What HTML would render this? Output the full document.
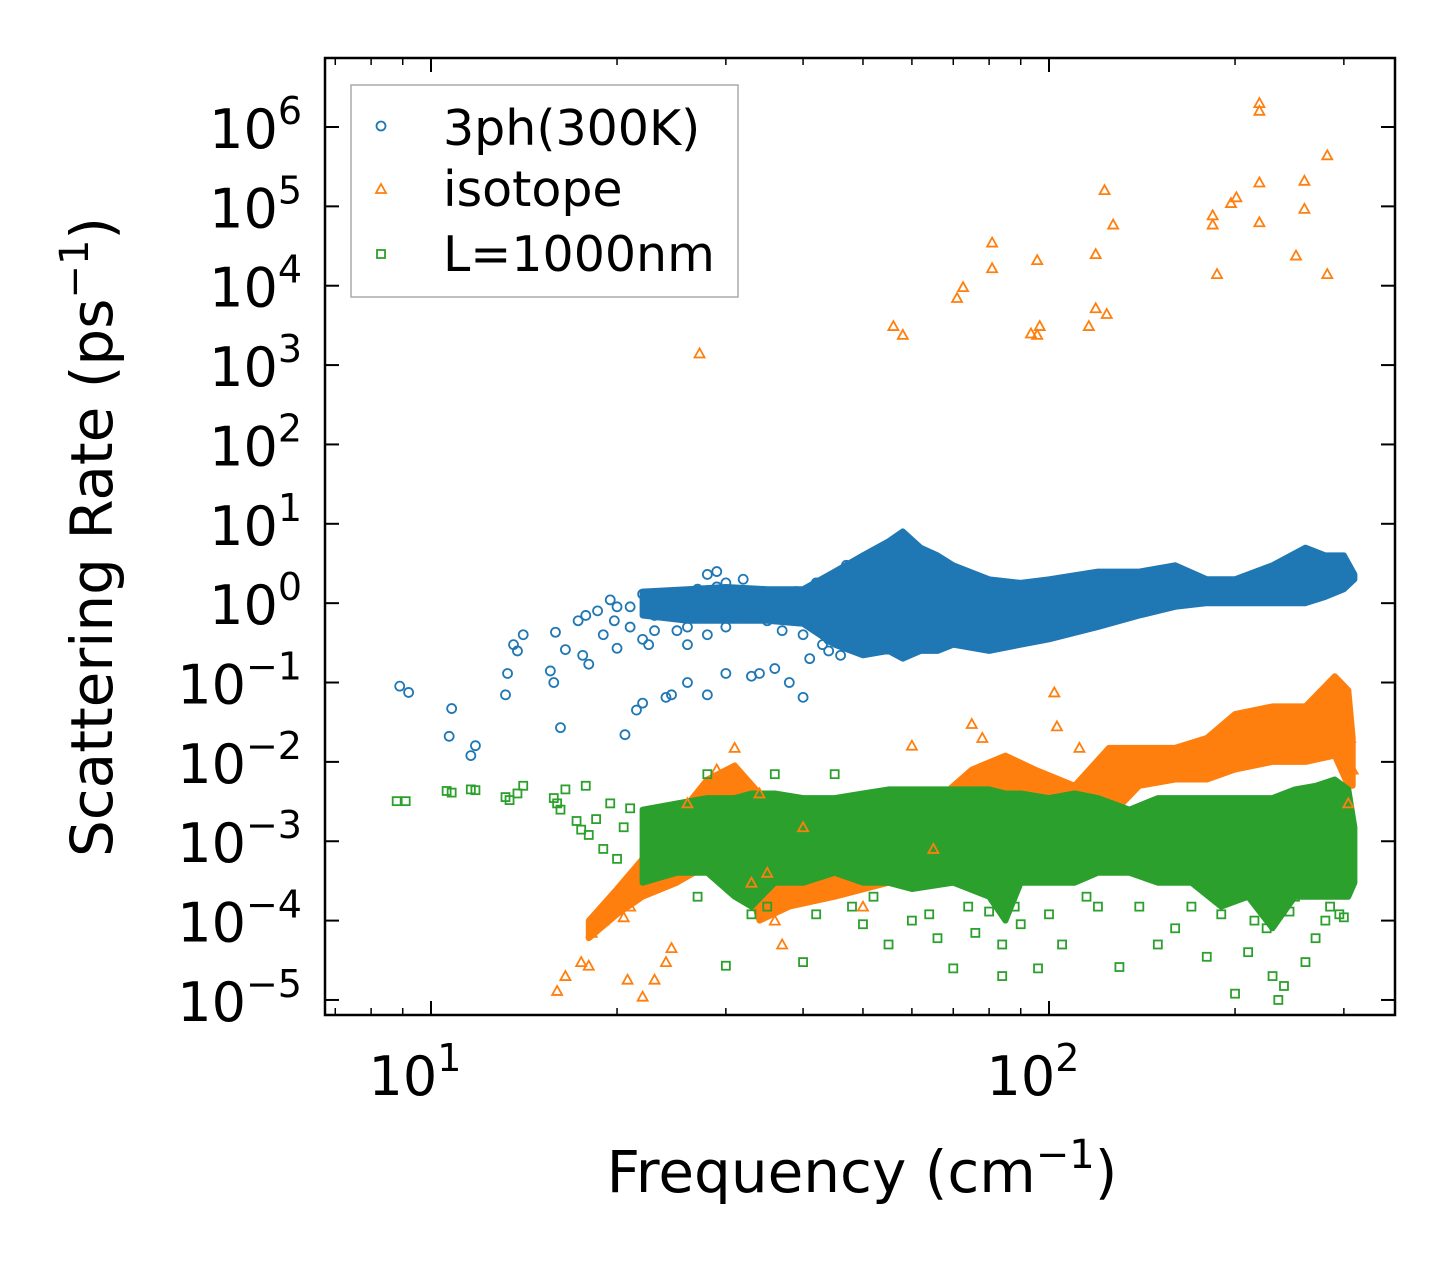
<!DOCTYPE html>
<html><head><meta charset="utf-8"><style>
html,body{margin:0;padding:0;background:#fff;}
svg{display:block;font-family:"DejaVu Sans","Liberation Sans",sans-serif;}
</style></head><body>
<svg id="chart" width="1455" height="1265" viewBox="0 0 1455 1265" xmlns="http://www.w3.org/2000/svg">
<rect x="0" y="0" width="1455" height="1265" fill="#fff"/>
<defs><clipPath id="clip"><rect x="325" y="58" width="1070" height="957"/></clipPath></defs>
<g id="bands" clip-path="url(#clip)"></g>
<g id="marks" clip-path="url(#clip)"></g>
<g id="axes"></g>
<text transform="translate(112,537) rotate(-90)" text-anchor="middle" font-size="58">Scattering Rate (ps<tspan dy="-24" font-size="40">−1</tspan><tspan dy="24">)</tspan></text>
<text x="862" y="1192" text-anchor="middle" font-size="58">Frequency (cm<tspan dy="-24" font-size="40">−1</tspan><tspan dy="24">)</tspan></text>
<g>
<rect x="351" y="85" width="387" height="212" fill="#fff" stroke="#aaa" stroke-width="1.5"/>
<g>
<circle cx="381" cy="126" r="4.5" fill="none" stroke="#1f77b4" stroke-width="1.8"/>
<text x="443" y="145" font-size="49">3ph(300K)</text></g>
<g>
<polygon points="381,184 386,193 376,193" fill="none" stroke="#ff7f0e" stroke-width="1.8"/>
<text x="443" y="206" font-size="49">isotope</text></g>
<g>
<rect x="377" y="250" width="8" height="8" fill="none" stroke="#2ca02c" stroke-width="1.8"/>
<text x="443" y="271" font-size="49">L=1000nm</text></g>
</g>
</svg>
<script>
const X0=325,X1=1395,Y0=58,Y1=1015;
const xDecPx=618, xRef=431;
const yDecPx=79.36, yRef=127;
function xs(f){return xRef+(Math.log10(f)-1)*xDecPx;}
function ys(v){return yRef+(6-Math.log10(v))*yDecPx;}

const yTickExps=[-5,-4,-3,-2,-1,0,1,2,3,4,5,6];
const xTickExps=[1,2];

// 3ph (blue)
const blueF=[8.9,9.2,10.7,10.8,11.6,11.8,13.2,13.3,13.6,13.8,14.1,15.6,15.8,15.9,16.2,16.5,17.3,17.6,17.8,18,18.6,19,19.5,20,20.6,21.5,22,24,24.5,26,28,30,33,34,36,38,40,41,22,24,26,27,28,29,30,30,32,33,35,36,38,40,42,43,45,47,49,20,21,22,23,25,26,28,30,34,37,39,44,19.8,21,23.5,25,27,31,22.5,23,24,25.5,27.5,29,32,35,38,41,44,46];
const blueV=[0.09,0.075,0.021,0.047,0.012,0.016,0.07,0.13,0.3,0.25,0.4,0.14,0.1,0.43,0.027,0.26,0.6,0.22,0.7,0.17,0.8,0.4,1.1,0.27,0.022,0.045,0.055,0.065,0.07,0.1,0.07,0.13,0.12,0.13,0.15,0.1,0.065,0.2,1.3,0.8,0.5,1.5,2.3,2.5,1.8,0.5,2,1,0.6,1.2,0.9,0.4,1.8,0.3,2.2,3,1.5,0.9,0.5,0.35,0.7,1.2,0.3,0.4,1.1,0.9,0.45,1.4,0.35,0.6,0.9,1.0,0.45,0.8,0.7,0.3,0.45,1.1,0.9,1.2,1.6,1.3,1.1,1.3,1.4,0.25,0.22];
const blueBandF=[22,26,30,35,40,45,50,55,58,62,66,70,80,90,100,120,140,160,180,200,230,260,280,300,312];
const blueBandHi=[1.4,1.5,1.6,1.5,1.5,2.5,4,6,8,5,4,3,2,1.8,2,2.5,2.5,3,2,2,3,5,4,4,2.3];
const blueBandLo=[0.7,0.6,0.6,0.6,0.55,0.3,0.22,0.25,0.2,0.25,0.25,0.3,0.25,0.3,0.35,0.5,0.7,0.9,1,1,1,1,1.2,1.5,2];

// isotope (orange)
const orangeF=[27.2,56,58,71,72.6,80.9,80.9,95.7,93.5,95.7,96.6,119,123,127,116,119,124,184,184,187,197,201,219,219,219,219,251,259,259,282,282,
16,16.5,17.5,18,18.2,19,20,20.8,22,23,24,24.5,20.5,21,31,40,60,65,75,78,102,103,112,33,35,37,36,40,45,50,300,305,310,307,26,28,29,32,34];
const orangeV=[1400,3100,2400,7000,9600,35000,16600,21000,2500,2400,3100,25000,1.6e5,5.9e4,3100,5200,4400,7.7e4,5.9e4,1.4e4,1.1e5,1.3e5,2.0e6,1.6e6,2.0e5,6.3e4,2.4e4,2.1e5,9.3e4,4.4e5,1.4e4,
1.3e-5,2e-5,3e-5,2.7e-5,7e-5,1e-4,2e-4,1.8e-5,1.1e-5,1.8e-5,3e-5,4.5e-5,1.1e-4,1.5e-4,1.5e-2,1.5e-3,1.6e-2,8e-4,3e-2,2e-2,7.5e-2,2.8e-2,1.5e-2,3e-4,4e-4,5e-5,1e-4,2e-4,3e-4,1.5e-4,1e-2,3e-3,8e-3,2e-2,3e-3,5e-3,8e-3,6e-3,4e-3];
const orangeBandF=[18,20,22,25,28,31,34,38,45,55,65,75,85,95,110,125,140,160,180,200,230,260,290,305,310];
const orangeBandHi=[1e-4,2.5e-4,6e-4,2e-3,6e-3,9e-3,4e-3,1e-3,1e-3,1.2e-3,3e-3,8e-3,1.2e-2,8e-3,5e-3,1.5e-2,1.5e-2,1.5e-2,2e-2,4e-2,5e-2,5e-2,1.2e-1,8e-2,2e-2];
const orangeBandLo=[6e-5,1.2e-4,2e-4,3e-4,5e-4,1e-3,1e-4,1.5e-4,2e-4,3e-4,8e-4,2e-3,2e-3,2e-3,1.5e-3,2e-3,5e-3,6e-3,6e-3,8e-3,1e-2,1e-2,1.2e-2,5e-3,5e-3];

// boundary L=1000nm (green)
const greenF=[8.8,9.1,10.6,10.8,11.6,11.8,13.2,13.4,13.8,14.1,15.8,16,16.2,16.5,17.2,17.5,17.8,18,18.5,19,19.5,20,20.5,21,30,33,40,50,55,66,70,76,84,84,96,105,130,150,180,200,210,230,235,240,270,300,305,31,27,28,36,45,60,90,120,160,250,260,280,35,42,48,52,64,74,80,88,100,115,140,170,190,215,225,245,285,295];
const greenV=[3.2e-3,3.2e-3,4.3e-3,4.1e-3,4.5e-3,4.4e-3,3.6e-3,3.3e-3,4e-3,5e-3,3.5e-3,3e-3,2.5e-3,4.5e-3,1.8e-3,1.4e-3,5e-3,1.2e-3,1.9e-3,8e-4,3e-3,6e-4,1.5e-3,2.6e-3,2.7e-5,1.2e-4,3e-5,9e-5,5e-5,6e-5,2.5e-5,7e-5,2e-5,5e-5,2.5e-5,5e-5,2.6e-5,5e-5,3.5e-5,1.2e-5,4e-5,2e-5,1e-5,1.5e-5,6e-5,1.1e-4,4e-4,7e-4,2e-4,7e-3,7e-3,7e-3,1e-4,9e-5,1.5e-4,8e-5,2e-4,3e-5,1e-4,1.5e-4,1.2e-4,1.5e-4,2e-4,1.2e-4,1.5e-4,1.3e-4,1.5e-4,1.2e-4,2e-4,1.5e-4,1.5e-4,1.2e-4,1e-4,8e-5,1.3e-4,1.5e-4,1.2e-4];
const greenBandF=[22,25,28,31,33,36,40,45,50,55,60,70,80,85,90,100,110,120,135,150,170,190,210,230,250,270,290,305,312];
const greenBandHi=[2.5e-3,3e-3,3.5e-3,3.5e-3,4e-3,4e-3,3.5e-3,3.5e-3,4e-3,4.5e-3,4.5e-3,4.5e-3,4.5e-3,4e-3,4e-3,3.5e-3,4e-3,3.5e-3,2.5e-3,3.5e-3,3.5e-3,3.5e-3,3.5e-3,3.5e-3,4.5e-3,5e-3,6e-3,4.5e-3,1.5e-3];
const greenBandLo=[3e-4,4e-4,4e-4,2e-4,1.5e-4,3e-4,3e-4,4e-4,3e-4,3e-4,2.5e-4,3e-4,2e-4,1e-4,3e-4,3e-4,3e-4,4e-4,4e-4,3e-4,3e-4,1.5e-4,2e-4,8e-5,2e-4,2e-4,2e-4,2e-4,3e-4];

const NS='http://www.w3.org/2000/svg';
const bands=document.getElementById('bands');
const marks=document.getElementById('marks');
const axes=document.getElementById('axes');
function mk(tag,attrs,parent){const e=document.createElementNS(NS,tag);for(const k in attrs)e.setAttribute(k,attrs[k]);parent.appendChild(e);return e;}

function band(F,Hi,Lo,color,name){
  let pts=[];
  for(let i=0;i<F.length;i++)pts.push(xs(F[i]).toFixed(1)+','+ys(Hi[i]).toFixed(1));
  for(let i=F.length-1;i>=0;i--)pts.push(xs(F[i]).toFixed(1)+','+ys(Lo[i]).toFixed(1));
  const p=mk('polygon',{points:pts.join(' '),fill:color,stroke:color,'stroke-width':6,'stroke-linejoin':'round'},bands);
  
  
}
function scatter(F,V,color,shape,name){
  const g=mk('g',{},marks);
  
  
  for(let i=0;i<F.length;i++){
    const x=xs(F[i]),y=ys(V[i]);let e;
    if(shape==='circle')e=mk('circle',{cx:x,cy:y,r:4.5,fill:'none',stroke:color,'stroke-width':1.8},g);
    else if(shape==='tri')e=mk('polygon',{points:`${x},${y-5} ${x+5},${y+4} ${x-5},${y+4}`,fill:'none',stroke:color,'stroke-width':1.8},g);
    else e=mk('rect',{x:x-4,y:y-4,width:8,height:8,fill:'none',stroke:color,'stroke-width':1.8},g);
    
    
  }
}
band(blueBandF,blueBandHi,blueBandLo,'#1f77b4','3ph-dense-region');
scatter(blueF,blueV,'#1f77b4','circle','3ph-series');
band(orangeBandF,orangeBandHi,orangeBandLo,'#ff7f0e','isotope-dense-region');
scatter(orangeF,orangeV,'#ff7f0e','tri','isotope-series');
band(greenBandF,greenBandHi,greenBandLo,'#2ca02c','boundary-dense-region');
scatter(greenF,greenV,'#2ca02c','sq','boundary-series');

const fr=mk('rect',{x:X0,y:Y0,width:X1-X0,height:Y1-Y0,fill:'none',stroke:'#000','stroke-width':2.5},axes);


yTickExps.forEach(e=>{
  const y=ys(Math.pow(10,e));
  mk('line',{x1:X0,x2:X0+14,y1:y,y2:y,stroke:'#000','stroke-width':2},axes);
  mk('line',{x1:X1,x2:X1-14,y1:y,y2:y,stroke:'#000','stroke-width':2},axes);
  const t=mk('text',{x:302,y:y+21,'text-anchor':'end','font-size':54},axes);
  
  
  const a=mk('tspan',{},t);a.textContent='10';
  const s=mk('tspan',{dy:-24,'font-size':38},t);
  s.textContent=(e<0?'−':'')+Math.abs(e);
});
for(let d=0;d<=2;d++){
  for(let m=1;m<=9;m++){
    const f=m*Math.pow(10,d);const x=xs(f);
    if(x<X0+1||x>X1-1)continue;
    const len=m===1?14:7;
    mk('line',{x1:x,x2:x,y1:Y1,y2:Y1-len,stroke:'#000','stroke-width':m===1?2:1.5},axes);
    mk('line',{x1:x,x2:x,y1:Y0,y2:Y0+len,stroke:'#000','stroke-width':m===1?2:1.5},axes);
  }
}
xTickExps.forEach(e=>{
  const x=xs(Math.pow(10,e));
  const t=mk('text',{x:x-16,y:1095,'text-anchor':'middle','font-size':54},axes);
  
  
  const a=mk('tspan',{},t);a.textContent='10';
  const s=mk('tspan',{dy:-24,'font-size':38},t);
  s.textContent=String(e);
});
</script>
</body></html>
